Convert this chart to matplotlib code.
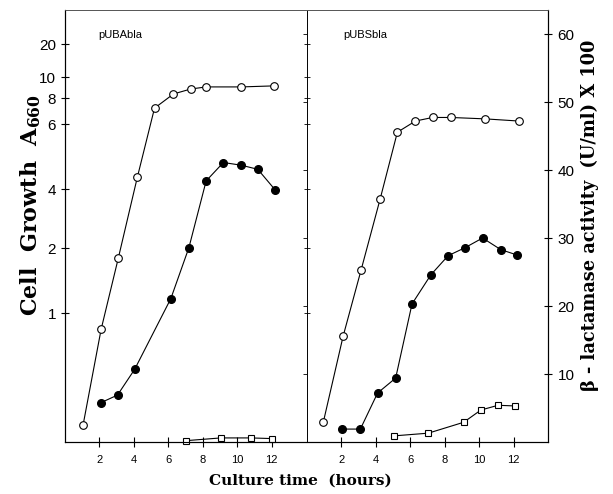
import matplotlib
matplotlib.use("Agg")
import matplotlib.pyplot as plt
import numpy as np

# culture time (hours)
t_open_a = [1.05, 2.1, 3.1, 4.2, 5.2, 6.3, 7.3, 8.2, 10.25, 12.15]
growth_a = [0.30, 0.84, 1.80, 4.3, 7.15, 8.35, 8.8, 9.0, 9.0, 9.1]
t_fill_a = [2.1, 3.05, 4.05, 6.15, 7.2, 8.2, 9.2, 10.25, 11.2, 12.2]
activity_a = [5.8, 6.9, 10.7, 21.1, 28.6, 38.4, 41.1, 40.7, 40.1, 37.1]
t_sq_a = [7.05, 9.05, 10.8, 12.05]
activity_sq_a = [0.2, 0.6, 0.6, 0.5]

t_open_b = [0.95, 2.1, 3.15, 4.25, 5.25, 6.3, 7.3, 8.35, 10.35, 12.3]
growth_b = [0.31, 0.78, 1.59, 3.56, 5.7, 6.2, 6.45, 6.45, 6.35, 6.2]
t_fill_b = [2.05, 3.1, 4.1, 5.15, 6.1, 7.2, 8.2, 9.2, 10.2, 11.25, 12.2]
activity_b = [1.9, 1.9, 7.2, 9.4, 20.3, 24.6, 27.4, 28.6, 30.0, 28.3, 27.5]
t_sq_b = [5.05, 7.05, 9.1, 10.1, 11.1, 12.1]
activity_sq_b = [0.9, 1.3, 2.9, 4.7, 5.4, 5.3]

xticks = [2, 4, 6, 8, 10, 12]
growth_ticks = [1, 2, 4, 6, 8, 10, 20]
activity_ticks = [10, 20, 30, 40, 50, 60]

# the printed growth axis is not a clean log scale: tick values and
# their heights (pixels above the x axis)
scale_vals = np.array([0.25, 1, 2, 4, 6, 8, 10, 20, 40])
scale_pos = np.array([0, 129, 194, 253, 318, 344, 365, 398, 432], dtype=float)


def fwd(v):
    v = np.clip(np.asarray(v, dtype=float), 1e-3, None)
    return np.interp(np.log10(v), np.log10(scale_vals), scale_pos)


def inv(p):
    return 10 ** np.interp(p, scale_pos, np.log10(scale_vals))


plt.rcParams["font.family"] = ["Liberation Sans", "DejaVu Sans"]

fig = plt.figure(figsize=(6.13, 4.94), dpi=100)
rect_a = [65 / 613, 52 / 494, 241 / 613, 432 / 494]
rect_b = [307 / 613, 52 / 494, 241 / 613, 432 / 494]

line_kw = dict(color="black", lw=0.8)
open_kw = dict(marker="o", ms=5.5, mfc="white", mec="black", mew=0.8)
fill_kw = dict(marker="o", ms=5.5, mfc="black", mec="black")
sq_kw = dict(marker="s", ms=5, mfc="white", mec="black", mew=0.8)


def setup(ax_g, ax_a, left_labels, right_labels):
    ax_g.set_yscale("function", functions=(fwd, inv))
    ax_g.set_ylim(0.25, 40)
    ax_a.set_ylim(0, 432 / 6.8)
    ax_g.set_xlim(0, 14)
    ax_g.set_xticks(xticks)
    ax_g.set_xticklabels([str(x) for x in xticks], fontsize=8)
    ax_g.set_yticks(growth_ticks)
    ax_g.set_yticks([], minor=True)
    ax_a.set_yticks(activity_ticks)
    ax_g.tick_params(axis="x", direction="inout", length=7, width=0.8, pad=6)
    ax_g.tick_params(axis="y", direction="inout", length=6 if left_labels else 4,
                     width=0.6 if not left_labels else 0.8,
                     labelleft=left_labels, labelsize=11)
    ax_g.set_yticklabels([str(v) for v in growth_ticks])
    ax_a.tick_params(axis="y", direction="inout", length=6 if right_labels else 4,
                     width=0.8 if right_labels else 0.6,
                     labelright=right_labels, labelsize=11, pad=4)
    for ax in (ax_g, ax_a):
        for s in ax.spines.values():
            s.set_linewidth(0.8)
        ax.spines["top"].set_linewidth(0.6)
        ax.spines["top"].set_color("#555555")


ax1 = fig.add_axes(rect_a)
ax1r = ax1.twinx()
ax2 = fig.add_axes(rect_b)
ax2r = ax2.twinx()
setup(ax1, ax1r, True, False)
setup(ax2, ax2r, False, True)
# one thin divider between the panels
ax1.spines["right"].set_visible(False)
ax1r.spines["right"].set_visible(False)
ax2r.spines["left"].set_visible(False)
ax2.spines["left"].set_linewidth(0.7)

ax1.plot(t_open_a, growth_a, **line_kw, **open_kw, zorder=3)
ax1r.plot(t_fill_a, activity_a, **line_kw, **fill_kw)
ax1r.plot(t_sq_a, activity_sq_a, **line_kw, **sq_kw, clip_on=False)

ax2.plot(t_open_b, growth_b, **line_kw, **open_kw, zorder=3)
ax2r.plot(t_fill_b, activity_b, **line_kw, **fill_kw)
ax2r.plot(t_sq_b, activity_sq_b, **line_kw, **sq_kw, clip_on=False)

ax1.text(0.14, 0.935, "pUBAbla", transform=ax1.transAxes, fontsize=8)
ax2.text(0.15, 0.935, "pUBSbla", transform=ax2.transAxes, fontsize=8)

fig.text(0.05, 0.585, r"Cell  Growth  A$_{\mathregular{660}}$", rotation=90,
         ha="center", va="center", fontsize=16, fontweight="bold",
         family="DejaVu Serif")
fig.text(0.963, 0.565, "\u03b2 - lactamase activity  (U/ml) X 100", rotation=90,
         ha="center", va="center", fontsize=12.8, fontweight="bold",
         family="DejaVu Serif")
fig.text(0.49, 0.028, "Culture time  (hours)", ha="center", va="center",
         fontsize=11, fontweight="bold", family="DejaVu Serif")

fig.savefig("out.png", dpi=100)
